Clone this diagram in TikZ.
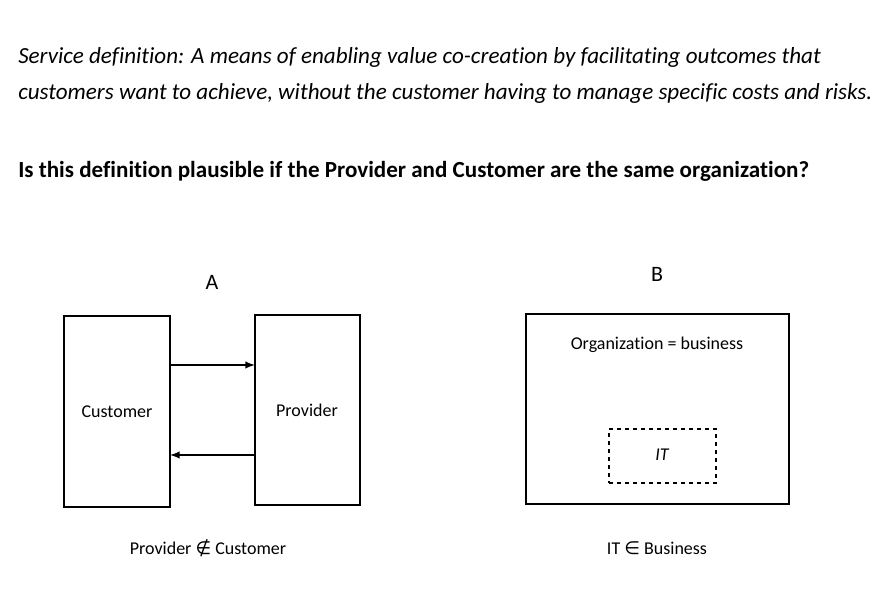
\documentclass[tikz,border=0pt]{standalone}
\usepackage{fontspec}
\setmainfont[Ligatures=NoCommon]{Carlito}
\newfontfamily\symf{DejaVu Sans}
\begin{document}
\begin{tikzpicture}[x=0.75pt,y=-0.75pt,
 box/.style={draw,line width=1.5pt},
 lab/.style={font=\fontsize{13.5}{15}\selectfont},
 arr/.style={-latex,line width=1.5pt}]
\useasboundingbox (0,0) rectangle (894,599);
\node[anchor=base west,inner sep=0,font=\fontsize{17.3}{20}\selectfont\itshape] (t1) at (18,64) {Service definition: A means of enabling value co-creation by facilitating outcomes that};
\node[anchor=base west,inner sep=0,font=\fontsize{17.3}{20}\selectfont\itshape] (t2) at (18,100) {customers want to achieve, without the customer having to manage specific costs and risks.};
\node[anchor=base west,inner sep=0,font=\fontsize{17.3}{20}\selectfont\bfseries] (q) at (18,178) {Is this definition plausible if the Provider and Customer are the same organization?};
\node[font=\fontsize{16.5}{18}\selectfont] (A) at (212,282) {A};
\node[font=\fontsize{16.5}{18}\selectfont] (B) at (657,274) {B};
\node[box,minimum width=106*0.75pt,minimum height=191*0.75pt,inner sep=0] (cust) at (117,411.5) {};
\node[lab] at (117,412) {Customer};
\node[box,minimum width=105*0.75pt,minimum height=190*0.75pt,inner sep=0] (prov) at (307.5,410) {};
\node[lab] at (307,410) {Provider};
\coordinate (a1) at (170,365); \coordinate (a2) at (255,365);
\coordinate (b1) at (255,455); \coordinate (b2) at (170,455);
\draw[arr] (a1) -- (a2);
\draw[arr] (b1) -- (b2);
\node[box,minimum width=263*0.75pt,minimum height=190*0.75pt,inner sep=0] (org) at (657.5,409) {};
\node[lab] at (657,345) {Organization = business};
\node[draw,dashed,line width=1.5pt,minimum width=107*0.75pt,minimum height=54*0.75pt,inner sep=0] (it) at (662.5,456) {};
\node[lab,font=\fontsize{13.5}{15}\selectfont\itshape] at (662,455) {IT};
\node[lab] at (208,548) {Provider {\symf ∉} Customer};
\node[lab] at (657,548) {IT {\symf ∈} Business};
\end{tikzpicture}
\end{document}
